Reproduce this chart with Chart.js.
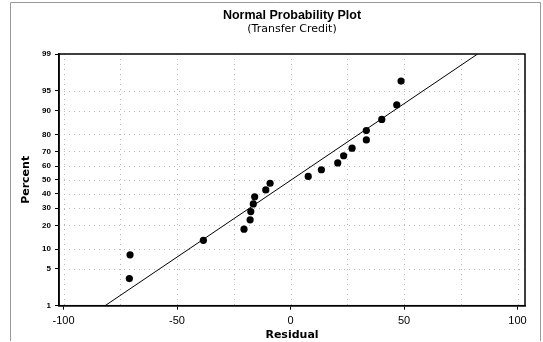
<!DOCTYPE html>
<html><head><meta charset="utf-8">
<script src="https://cdn.jsdelivr.net/npm/chart.js@4.4.0/dist/chart.umd.min.js"></script>
<style>html,body{margin:0;padding:0;background:#fff;}#wrap{width:543px;height:342px;}</style>
</head><body><div id="wrap"><canvas id="c" width="543" height="342"></canvas></div>
<script>
// Residuals (sorted)
const residuals = [-71.0,-70.7,-38.4,-20.5,-17.8,-17.5,-16.4,-15.8,-10.9,-9.0,7.8,13.6,20.8,23.4,27.1,33.4,33.4,40.2,46.8,48.7];
// Percent (plotting position) of each point
const percents = [3.4,8.3,13.2,18.1,23.0,27.9,32.8,37.7,42.6,47.5,52.5,57.4,62.3,67.2,72.1,77.0,81.9,86.8,91.7,96.6];
const percentTicks = [1,5,10,20,30,40,50,60,70,80,90,95,99];
const percentGrid = [5,10,20,30,40,50,60,70,80,90,95];
const residualTicks = [-100,-50,0,50,100];
const residualGrid = [-100,-75,-50,-25,0,25,50,75,100];

const FONT = '"Liberation Sans", Arial, sans-serif';
const WIDE = '"DejaVu Sans", Verdana, sans-serif';

// inverse standard normal CDF (Acklam) - used to build the probability scale
function probit(p){
  const a=[-3.969683028665376e+01,2.209460984245205e+02,-2.759285104469687e+02,1.383577518672690e+02,-3.066479806614716e+01,2.506628277459239e+00];
  const b=[-5.447609879822406e+01,1.615858368580409e+02,-1.556989798598866e+02,6.680131188771972e+01,-1.328068155288572e+01];
  const c=[-7.784894002430293e-03,-3.223964580411365e-01,-2.400758277161838e+00,-2.549732539343734e+00,4.374664141464968e+00,2.938163982698783e+00];
  const d=[7.784695709041462e-03,3.224671290700398e-01,2.445134137142996e+00,3.754408661907416e+00];
  const pl=0.02425, ph=1-pl; let q,r;
  if(p<pl){q=Math.sqrt(-2*Math.log(p));return (((((c[0]*q+c[1])*q+c[2])*q+c[3])*q+c[4])*q+c[5])/((((d[0]*q+d[1])*q+d[2])*q+d[3])*q+1);}
  if(p<=ph){q=p-0.5;r=q*q;return (((((a[0]*r+a[1])*r+a[2])*r+a[3])*r+a[4])*r+a[5])*q/(((((b[0]*r+b[1])*r+b[2])*r+b[3])*r+b[4])*r+1);}
  q=Math.sqrt(-2*Math.log(1-p));return -(((((c[0]*q+c[1])*q+c[2])*q+c[3])*q+c[4])*q+c[5])/((((d[0]*q+d[1])*q+d[2])*q+d[3])*q+1);
}
const z = pct => probit(pct/100);

const pts = residuals.map((r,i)=>({x:r, y:z(percents[i])}));
// fitted normal line from the data's mean and standard deviation
const n = residuals.length;
const mean = residuals.reduce((s,v)=>s+v,0)/n;
const sd = Math.sqrt(residuals.reduce((s,v)=>s+(v-mean)*(v-mean),0)/(n-1));
const fitPts = [1,99].map(p=>({x:mean+sd*z(p), y:z(p)}));

const gridPlugin = {
  id:'probGrid',
  beforeDatasetsDraw(chart){
    const {ctx, chartArea:a, scales:{x,y}} = chart;
    ctx.save();
    ctx.strokeStyle='#b8b8b8'; ctx.lineWidth=1; ctx.setLineDash([1,4]);
    residualGrid.forEach(v=>{const px=Math.round(x.getPixelForValue(v))+0.5;ctx.beginPath();ctx.moveTo(px,a.top);ctx.lineTo(px,a.bottom);ctx.stroke();});
    percentGrid.forEach(p=>{const py=Math.round(y.getPixelForValue(z(p)))+0.5;ctx.beginPath();ctx.moveTo(a.left,py);ctx.lineTo(a.right,py);ctx.stroke();});
    ctx.restore();
  },
  afterDraw(chart){
    const {ctx, chartArea:a} = chart;
    ctx.save();
    ctx.strokeStyle='#000'; ctx.lineWidth=1.5;
    ctx.strokeRect(a.left, a.top, a.right-a.left, a.bottom-a.top);
    ctx.strokeStyle='#999'; ctx.lineWidth=1;
    ctx.beginPath();
    ctx.moveTo(10.5,341); ctx.lineTo(10.5,2.5); ctx.lineTo(540.5,2.5); ctx.lineTo(540.5,341);
    ctx.stroke();
    ctx.restore();
  }
};

new Chart(document.getElementById('c'), {
  type:'scatter',
  data:{datasets:[
    {type:'line', label:'Fit', data:fitPts, borderColor:'#000', borderWidth:1, pointRadius:0, fill:false, tension:0, order:2},
    {label:'Residual', data:pts, backgroundColor:'#000', borderColor:'#000', pointRadius:3.6, pointBorderWidth:0, order:1}
  ]},
  options:{
    responsive:false, animation:false, devicePixelRatio:1,
    layout:{padding:{left:20, right:18, top:0, bottom:0}},
    plugins:{
      legend:{display:false}, tooltip:{enabled:false},
      title:{display:true, text:'Normal Probability Plot', fullSize:false, color:'#000',
        font:{family:FONT, size:12.5, weight:'bold'}, padding:{top:8, bottom:0}},
      subtitle:{display:true, text:'(Transfer Credit)', fullSize:false, color:'#000',
        font:{family:WIDE, size:11}, padding:{top:0, bottom:17.8}}
    },
    scales:{
      x:{type:'linear', min:-102, max:103.3,
        afterBuildTicks:s=>{s.ticks=residualTicks.map(v=>({value:v}));},
        afterFit:s=>{s.height=36.3;},
        grid:{drawOnChartArea:false, tickLength:4, color:'#000', lineWidth:1},
        border:{display:true, color:'#000', width:1.5},
        ticks:{autoSkip:false, maxRotation:0, padding:5, color:'#000', font:{family:FONT, size:11},
          callback:v=>String(v)},
        title:{display:true, text:'Residual', color:'#000', font:{family:WIDE, size:11, weight:'bold'}, padding:{top:0,bottom:0}}
      },
      y:{type:'linear', min:z(1), max:z(99),
        afterBuildTicks:s=>{s.ticks=percentTicks.map(p=>({value:z(p)}));},
        afterFit:s=>{s.width=39;},
        grid:{drawOnChartArea:false, tickLength:4, color:'#000', lineWidth:1},
        border:{display:true, color:'#000', width:1.5},
        ticks:{autoSkip:false, padding:4, color:'#000', font:{family:FONT, size:8, weight:'bold'},
          callback:(v,i)=>String(percentTicks[i])},
        title:{display:true, text:'Percent', color:'#000', font:{family:WIDE, size:11, weight:'bold'}, padding:{top:0,bottom:0}}
      }
    }
  },
  plugins:[gridPlugin]
});
</script>
</body></html>
